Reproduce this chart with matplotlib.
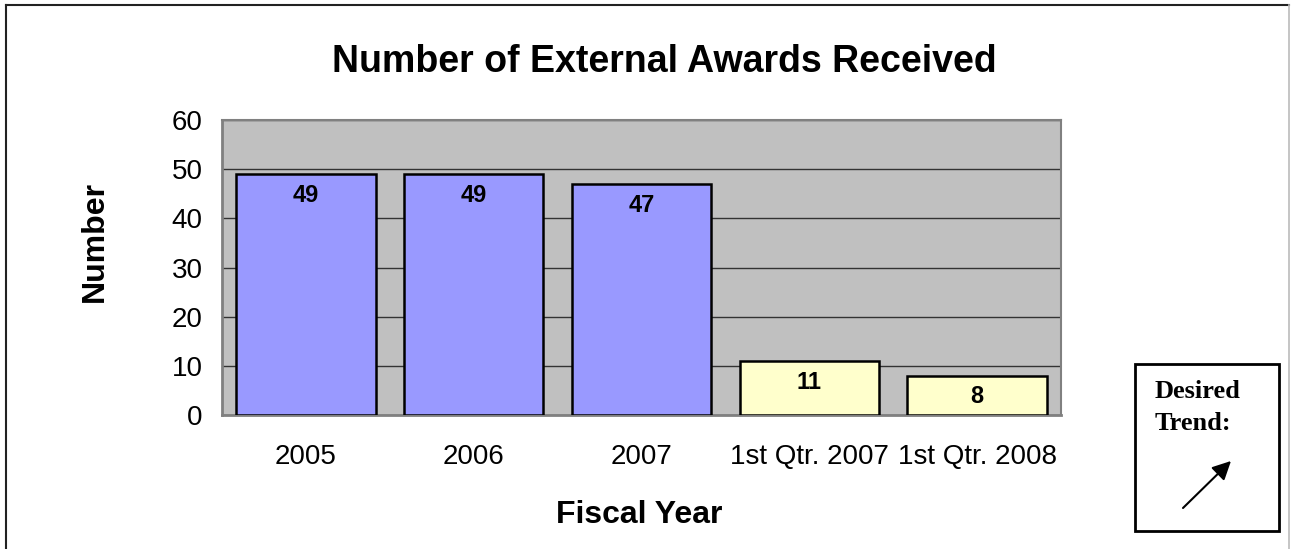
import numpy as np
import matplotlib.pyplot as plt
from matplotlib.patches import Rectangle, FancyArrowPatch
from matplotlib.lines import Line2D

# chart data
categories = ['2005', '2006', '2007', '1st Qtr. 2007', '1st Qtr. 2008']
awards = [49, 49, 47, 11, 8]
bar_colors = ['#9999FF', '#9999FF', '#9999FF', '#FFFFCC', '#FFFFCC']
yticks = [0, 10, 20, 30, 40, 50, 60]

plt.rcParams['font.family'] = ['Liberation Sans', 'DejaVu Sans']

fig = plt.figure(figsize=(12.91, 5.49), dpi=100)
ax = fig.add_axes([222/1291, 1-415/549, (1061-222)/1291, (415-120)/549])

x = np.arange(len(categories))
bars = ax.bar(x, awards, width=0.83, color=bar_colors, edgecolor='black', linewidth=1.8, zorder=3)

# value labels inside bar tops
for b, v in zip(bars, awards):
    ax.annotate(str(v), (b.get_x() + b.get_width()/2, v), xytext=(0, -7),
                textcoords='offset points', ha='center', va='top',
                fontsize=17, fontweight='bold', zorder=4)

ax.set_xlim(-0.5, len(categories) - 0.5)
ax.set_ylim(0, 60)
ax.set_yticks(yticks)
ax.set_xticks(x)
ax.set_xticklabels(categories)
ax.set_facecolor('#C0C0C0')
ax.yaxis.grid(True, color='#333333', linewidth=1.0, zorder=0)
ax.set_axisbelow(True)
ax.tick_params(axis='both', length=0, labelsize=20)
ax.tick_params(axis='x', pad=21)
ax.tick_params(axis='y', pad=14)
for side in ['left', 'bottom']:
    ax.spines[side].set_color('#808080')
    ax.spines[side].set_linewidth(2.0)
for side in ['top', 'right']:
    ax.spines[side].set_color('#808080')
    ax.spines[side].set_linewidth(1.5)

fig.text(664/1291, 1-62/549, 'Number of External Awards Received', ha='center', va='center',
         fontsize=27, fontweight='bold')
fig.text(639/1291, 1-515/549, 'Fiscal Year', ha='center', va='center', fontsize=23, fontweight='bold')
fig.text(95/1291, 1-241/549, 'Number', ha='center', va='center', rotation=90,
         fontsize=23, fontweight='bold')

# outer chart frame
fig.add_artist(Line2D([6/1291, 6/1291], [0, 1-5/549], color='#222222', linewidth=1.5))
fig.add_artist(Line2D([6/1291, 1289/1291], [1-5/549, 1-5/549], color='#222222', linewidth=1.5))
fig.add_artist(Line2D([1289/1291, 1289/1291], [0, 1-5/549], color='#BBBBBB', linewidth=1.2))

# desired trend box
fig.add_artist(Rectangle((1135/1291, 1-531/549), (1279-1135)/1291, (531-364)/549,
                         transform=fig.transFigure, facecolor='white', edgecolor='black', linewidth=2))
fig.text(1155/1291, 1-391/549, 'Desired', ha='left', va='center', fontsize=19, fontweight='bold',
         family=['Liberation Serif', 'DejaVu Serif'])
fig.text(1155/1291, 1-424/549, 'Trend:', ha='left', va='center', fontsize=19, fontweight='bold',
         family=['Liberation Serif', 'DejaVu Serif'])
fig.add_artist(FancyArrowPatch((1183/1291, 1-508/549), (1231/1291, 1-461/549),
                               transform=fig.transFigure, arrowstyle='-|>', mutation_scale=28,
                               color='black', linewidth=1.5, shrinkA=0, shrinkB=0))

fig.savefig('out.png', dpi=100)
